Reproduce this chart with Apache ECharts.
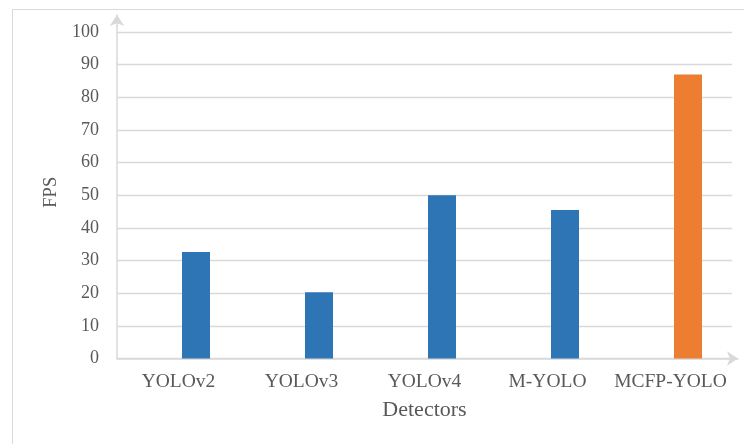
<!DOCTYPE html>
<html>
<head>
<meta charset="utf-8">
<script src="https://cdn.jsdelivr.net/npm/echarts@6/dist/echarts.min.js"></script>
<style>
  html, body { margin: 0; padding: 0; background: #fff; }
  #chart { width: 744px; height: 444px; }
</style>
</head>
<body>
<div id="chart"></div>
<script>
// Detector names along the x axis
const detectors = ['YOLOv2', 'YOLOv3', 'YOLOv4', 'M-YOLO', 'MCFP-YOLO'];
// Frames per second for each detector
const fpsValues = [32.6, 20.3, 50, 45.5, 87];
// Empty companion series (keeps the bars shifted right in each slot)
const spacerValues = [null, null, null, null, null];
// Y axis ticks
const yMin = 0, yMax = 100, yStep = 10;

const BLUE = '#2e75b6';
const ORANGE = '#ed7d31';
const AXIS_GREY = '#d9d9d9';
const TEXT_GREY = '#595959';
const FONT = '"Liberation Serif", "Times New Roman", serif';

const chart = echarts.init(document.getElementById('chart'), null, { renderer: 'canvas' });

chart.setOption({
  backgroundColor: '#ffffff',
  animation: false,
  graphic: [{
    type: 'rect',
    shape: { x: 12.5, y: 9.5, width: 800, height: 500 },
    style: { fill: 'none', stroke: AXIS_GREY, lineWidth: 1 },
    silent: true,
    z: -10
  }],
  grid: [
    { left: 117, right: 12, top: 32, bottom: 85.5, containLabel: false },
    // taller frame carrying only the arrowed axis lines
    { left: 117, right: 6, top: 15, bottom: 85.5, containLabel: false }
  ],
  xAxis: [{
    type: 'category',
    gridIndex: 0,
    data: detectors,
    name: 'Detectors',
    nameLocation: 'middle',
    nameGap: 41,
    nameTextStyle: { fontFamily: FONT, fontSize: 22, color: TEXT_GREY },
    axisLine: { show: false },
    axisTick: { show: false },
    axisLabel: { interval: 0, hideOverlap: false, fontFamily: FONT, fontSize: 19.5, color: TEXT_GREY, margin: 13 },
    splitLine: { show: false }
  }, {
    type: 'value',
    gridIndex: 1,
    min: 0, max: 1,
    axisLine: {
      show: true, onZero: false,
      lineStyle: { color: AXIS_GREY, width: 1.5 },
      symbol: ['none', 'arrow'], symbolSize: [11, 11]
    },
    axisTick: { show: false },
    axisLabel: { show: false },
    splitLine: { show: false }
  }],
  yAxis: [{
    type: 'value',
    gridIndex: 0,
    min: yMin, max: yMax, interval: yStep,
    name: 'FPS',
    nameLocation: 'middle',
    nameGap: 55,
    nameRotate: 90,
    nameTextStyle: { fontFamily: FONT, fontSize: 18.5, color: TEXT_GREY, padding: [0, 0, 0, 6] },
    axisLine: { show: false },
    axisTick: { show: false },
    axisLabel: { fontFamily: FONT, fontSize: 18, color: TEXT_GREY, margin: 18 },
    splitLine: { show: true, lineStyle: { color: AXIS_GREY, width: 1.4 } }
  }, {
    type: 'value',
    gridIndex: 1,
    min: 0, max: 1,
    axisLine: {
      show: true, onZero: false,
      lineStyle: { color: AXIS_GREY, width: 1.5 },
      symbol: ['none', 'arrow'], symbolSize: [11, 11]
    },
    axisTick: { show: false },
    axisLabel: { show: false },
    splitLine: { show: false }
  }],
  series: [{
    name: 'spacer',
    type: 'bar',
    xAxisIndex: 0, yAxisIndex: 0,
    data: spacerValues,
    barWidth: 28,
    barGap: '25%'
  }, {
    name: 'FPS',
    type: 'bar',
    xAxisIndex: 0, yAxisIndex: 0,
    data: fpsValues.map((v, i) => ({
      value: v,
      itemStyle: { color: i === fpsValues.length - 1 ? ORANGE : BLUE }
    })),
    barWidth: 28,
    barGap: '25%',
    itemStyle: { color: BLUE }
  }]
});
</script>
</body>
</html>
